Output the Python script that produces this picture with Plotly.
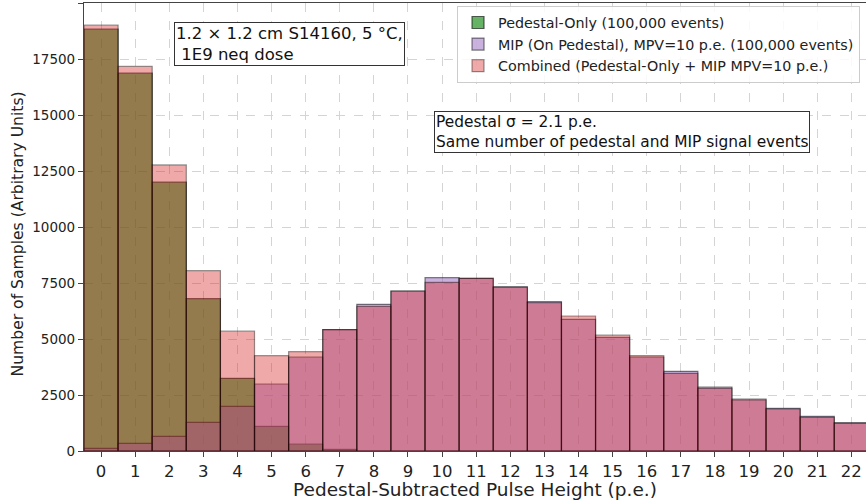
import plotly.graph_objects as go

bins = list(range(23))
pedestal = [18840, 16875, 12000, 6800, 3245, 1100, 312, 75, 0, 0, 0, 0, 0, 0, 0, 0, 0, 0, 0, 0, 0, 0, 0]
mip = [120, 340, 655, 1280, 1995, 2990, 4196, 5420, 6550, 7143, 7738, 7708, 7336, 6667, 5878,
       5074, 4196, 3557, 2857, 2321, 1905, 1548, 1265]
combined = [19018, 17170, 12770, 8050, 5357, 4256, 4433, 5420, 6460, 7143, 7530, 7708, 7300, 6622, 6027,
            5179, 4256, 3467, 2798, 2277, 1875, 1503, 1235]

names = ["Pedestal-Only (100,000 events)",
         "MIP (On Pedestal), MPV=10 p.e. (100,000 events)",
         "Combined (Pedestal-Only + MIP MPV=10 p.e.)"]
ann1 = "1.2 × 1.2 cm S14160, 5 °C,<br> 1E9 neq dose"
ann2 = "Pedestal σ = 2.1 p.e.<br>Same number of pedestal and MIP signal events"
ytitle = "Number of Samples (Arbitrary Units)"
xtitle = "Pedestal-Subtracted Pulse Height (p.e.)"

fills = ["rgba(0,128,0,0.6)", "rgba(148,103,189,0.5)", "rgba(214,39,40,0.4)"]
edges = ["rgba(0,0,0,0.6)", "rgba(0,0,0,0.5)", "rgba(0,0,0,0.4)"]

fig = go.Figure()
for ys, nm, fc, ec in zip([pedestal, mip, combined], names, fills, edges):
    fig.add_trace(go.Bar(x=bins, y=ys, name=nm, width=1.0,
                         marker=dict(color=fc, line=dict(color=ec, width=1.2))))

fig.update_layout(
    width=866, height=500,
    barmode="overlay",
    plot_bgcolor="white", paper_bgcolor="white",
    margin=dict(l=84, r=0, t=3, b=49),
    font=dict(family="DejaVu Sans", color="#222"),
    showlegend=True,
    legend=dict(x=0.477, y=0.994, xanchor="left", yanchor="top",
                bgcolor="rgba(255,255,255,0.85)", bordercolor="#cccccc", borderwidth=1,
                font=dict(size=14.3, family="DejaVu Sans", color="#222"),
                itemwidth=30, tracegroupgap=2),
    xaxis=dict(range=[-0.5, 22.43], tickmode="linear", tick0=0, dtick=1, automargin=False,
               showgrid=True, gridcolor="#d4d4d4", griddash="dash", gridwidth=1,
               showline=True, linecolor="#444", linewidth=1.2, mirror=True,
               ticks="outside", ticklen=5, tickcolor="#444",
               tickfont=dict(size=16.5), zeroline=False,
               title=dict(text=xtitle, font=dict(size=18.5), standoff=0)),
    yaxis=dict(range=[0, 20000], tickmode="linear", tick0=0, dtick=2500, tickformat="d", automargin=False,
               showgrid=True, gridcolor="#d4d4d4", griddash="dash", gridwidth=1,
               showline=True, linecolor="#444", linewidth=1.2,
               ticks="outside", ticklen=5, tickcolor="#444",
               tickfont=dict(size=13.5), zeroline=False),
    annotations=[
        dict(text=ytitle, xref="paper", yref="paper", x=-0.0844, y=0.4855, xanchor="center", yanchor="middle",
             textangle=-90, showarrow=False, font=dict(size=15.6, family="DejaVu Sans", color="#222")),
        dict(text=ann1, xref="paper", yref="paper", x=0.115, y=0.958, xanchor="left", yanchor="top",
             showarrow=False, align="left", font=dict(size=16.5, family="DejaVu Sans", color="#111"),
             bgcolor="white", bordercolor="#333", borderwidth=1, borderpad=1),
        dict(text=ann2, xref="paper", yref="paper", x=0.4476, y=0.759, xanchor="left", yanchor="top",
             showarrow=False, align="left", font=dict(size=15.4, family="DejaVu Sans", color="#111"),
             bgcolor="white", bordercolor="#333", borderwidth=1, borderpad=1),
    ],
)

fig.write_html("out.html", config={"displayModeBar": False},
               post_script="document.body.style.margin='0px';")
